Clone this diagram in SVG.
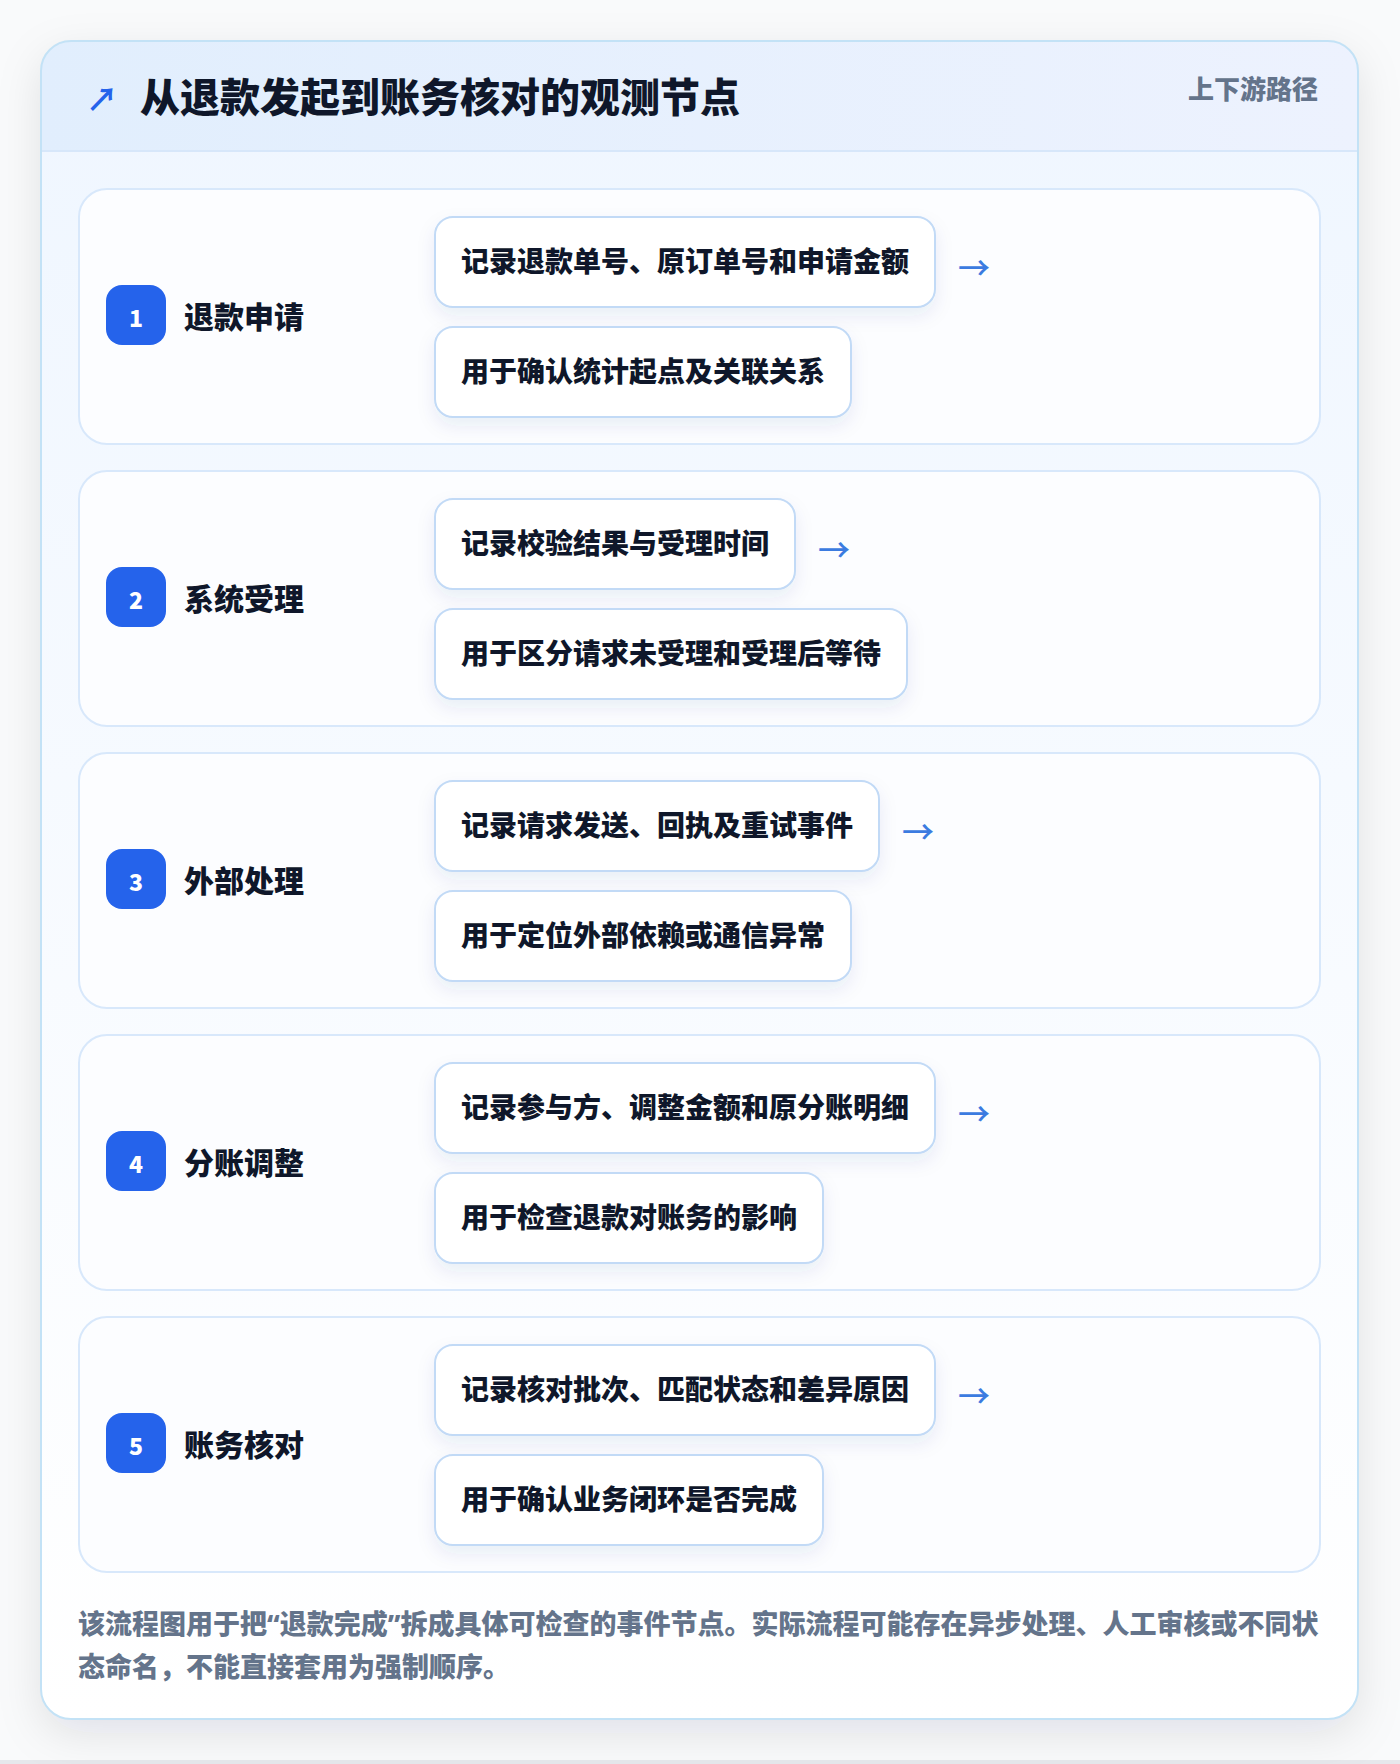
<svg xmlns="http://www.w3.org/2000/svg" width="1400" height="1764" viewBox="0 0 1400 1764">
  <defs>
    <linearGradient id="headGrad" x1="0" y1="0" x2="1" y2="0">
      <stop offset="0" stop-color="#e1eefd"/>
      <stop offset="1" stop-color="#edf2fe"/>
    </linearGradient>
    <linearGradient id="bodyGrad" x1="0" y1="0" x2="0" y2="1">
      <stop offset="0" stop-color="#eff6ff"/>
      <stop offset="1" stop-color="#ffffff"/>
    </linearGradient>
    <filter id="cardShadow" x="-10%" y="-10%" width="120%" height="120%">
      <feDropShadow dx="0" dy="14" stdDeviation="22" flood-color="#0f172a" flood-opacity="0.10"/>
    </filter>
    <filter id="boxShadow" x="-20%" y="-30%" width="140%" height="180%">
      <feDropShadow dx="0" dy="8" stdDeviation="9" flood-color="#1e3a8a" flood-opacity="0.08"/>
    </filter>
    <clipPath id="cardClip">
      <rect x="41" y="41" width="1317" height="1678" rx="30"/>
    </clipPath>
    <style>
      text { font-family: "Noto Sans CJK SC", "Noto Sans", sans-serif; }
      .title { font-size: 40px; font-weight: 900; fill: #0f172a; }
      .tag { font-size: 26px; font-weight: 800; fill: #64748b; }
      .step { fill: #fcfdff; stroke: #d8e8fb; stroke-width: 2; }
      .badge { fill: #2563eb; }
      .num { font-size: 23px; font-weight: 800; fill: #ffffff; text-anchor: middle; }
      .label { font-size: 30px; font-weight: 900; fill: #0f172a; }
      .box { fill: #ffffff; stroke: #c2daf6; stroke-width: 2; filter: url(#boxShadow); }
      .btxt { font-size: 28px; font-weight: 900; fill: #0f172a; }
      .arrow { font-size: 32px; font-weight: 500; fill: #3b7be0; }
      .foot { font-size: 27px; font-weight: 800; fill: #64748b; }
      .q { font-family: "Noto Sans", sans-serif; }
    </style>
  </defs>

  <rect x="0" y="0" width="1400" height="1764" fill="#f9fafb"/>
  <rect x="0" y="1760" width="1400" height="4" fill="#e6e8ec"/>

  <g id="card">
    <rect x="41" y="41" width="1317" height="1678" rx="30" fill="url(#bodyGrad)" filter="url(#cardShadow)"/>
    <g clip-path="url(#cardClip)">
      <rect x="41" y="41" width="1317" height="110" fill="url(#headGrad)"/>
      <rect x="41" y="150" width="1317" height="2" fill="#d7e7fa"/>
    </g>
    <rect x="41" y="41" width="1317" height="1678" rx="30" fill="none" stroke="#c3e2f6" stroke-width="2"/>
  </g>

  <g id="header">
    <text x="86" y="111" font-size="32" font-weight="700" fill="#2563eb">↗</text>
    <text class="title" x="140" y="112">从退款发起到账务核对的观测节点</text>
    <text class="tag" x="1188" y="99">上下游路径</text>
  </g>

  <g id="step1">
    <rect class="step" x="79" y="189" width="1241" height="255" rx="28"/>
    <rect class="badge" x="106" y="285" width="60" height="60" rx="16"/>
    <text class="num" x="136" y="327">1</text>
    <text class="label" x="184" y="328">退款申请</text>
    <rect class="box" x="435" y="217" width="500" height="90" rx="18"/>
    <text class="btxt" x="461" y="272">记录退款单号、原订单号和申请金额</text>
    <rect class="box" x="435" y="327" width="416" height="90" rx="18"/>
    <text class="btxt" x="461" y="382">用于确认统计起点及关联关系</text>
  </g>

  <g id="step2">
    <rect class="step" x="79" y="471" width="1241" height="255" rx="28"/>
    <rect class="badge" x="106" y="567" width="60" height="60" rx="16"/>
    <text class="num" x="136" y="609">2</text>
    <text class="label" x="184" y="610">系统受理</text>
    <rect class="box" x="435" y="499" width="360" height="90" rx="18"/>
    <text class="btxt" x="461" y="554">记录校验结果与受理时间</text>
    <rect class="box" x="435" y="609" width="472" height="90" rx="18"/>
    <text class="btxt" x="461" y="664">用于区分请求未受理和受理后等待</text>
  </g>

  <g id="step3">
    <rect class="step" x="79" y="753" width="1241" height="255" rx="28"/>
    <rect class="badge" x="106" y="849" width="60" height="60" rx="16"/>
    <text class="num" x="136" y="891">3</text>
    <text class="label" x="184" y="892">外部处理</text>
    <rect class="box" x="435" y="781" width="444" height="90" rx="18"/>
    <text class="btxt" x="461" y="836">记录请求发送、回执及重试事件</text>
    <rect class="box" x="435" y="891" width="416" height="90" rx="18"/>
    <text class="btxt" x="461" y="946">用于定位外部依赖或通信异常</text>
  </g>

  <g id="step4">
    <rect class="step" x="79" y="1035" width="1241" height="255" rx="28"/>
    <rect class="badge" x="106" y="1131" width="60" height="60" rx="16"/>
    <text class="num" x="136" y="1173">4</text>
    <text class="label" x="184" y="1174">分账调整</text>
    <rect class="box" x="435" y="1063" width="500" height="90" rx="18"/>
    <text class="btxt" x="461" y="1118">记录参与方、调整金额和原分账明细</text>
    <rect class="box" x="435" y="1173" width="388" height="90" rx="18"/>
    <text class="btxt" x="461" y="1228">用于检查退款对账务的影响</text>
  </g>

  <g id="step5">
    <rect class="step" x="79" y="1317" width="1241" height="255" rx="28"/>
    <rect class="badge" x="106" y="1413" width="60" height="60" rx="16"/>
    <text class="num" x="136" y="1455">5</text>
    <text class="label" x="184" y="1456">账务核对</text>
    <rect class="box" x="435" y="1345" width="500" height="90" rx="18"/>
    <text class="btxt" x="461" y="1400">记录核对批次、匹配状态和差异原因</text>
    <rect class="box" x="435" y="1455" width="388" height="90" rx="18"/>
    <text class="btxt" x="461" y="1510">用于确认业务闭环是否完成</text>
  </g>

  <g id="connectors">
    <text class="arrow" x="958" y="280">→</text>
    <text class="arrow" x="818" y="562">→</text>
    <text class="arrow" x="902" y="844">→</text>
    <text class="arrow" x="958" y="1126">→</text>
    <text class="arrow" x="958" y="1408">→</text>
  </g>

  <g id="footer">
    <text class="foot" x="78" y="1634">该流程图用于把<tspan class="q">“</tspan>退款完成<tspan class="q">”</tspan>拆成具体可检查的事件节点。实际流程可能存在异步处理、人工审核或不同状</text>
    <text class="foot" x="78" y="1677">态命名，不能直接套用为强制顺序。</text>
  </g>
</svg>
